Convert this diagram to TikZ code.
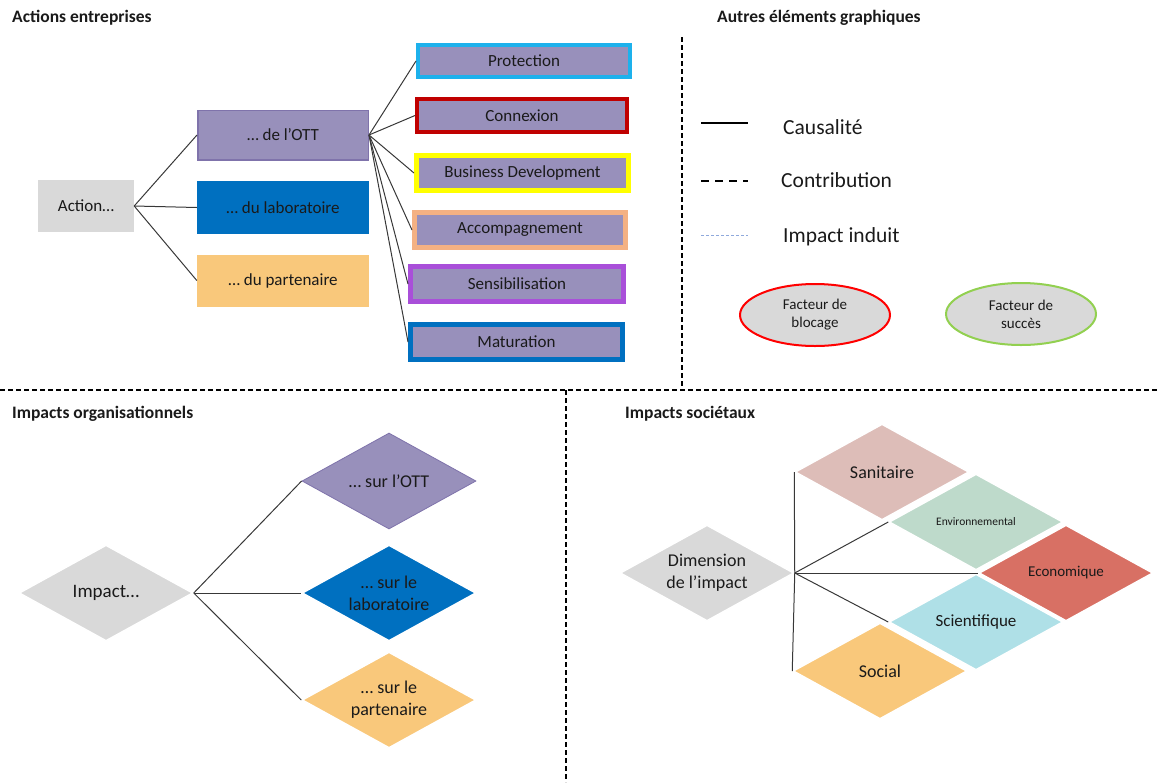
\documentclass[tikz,border=0pt]{standalone}
\usepackage{fontspec}
\setmainfont{Carlito}
\usetikzlibrary{shapes.geometric}

\definecolor{greyfill}{HTML}{D9D9D9}
\definecolor{ottfill}{HTML}{9890BB}
\definecolor{ottline}{HTML}{7F73AB}
\definecolor{labfill}{HTML}{0070C0}
\definecolor{partfill}{HTML}{F9C87B}
\definecolor{protline}{HTML}{1DB1EC}
\definecolor{connline}{HTML}{C00000}
\definecolor{bizline}{HTML}{FFFF00}
\definecolor{accline}{HTML}{F4B183}
\definecolor{sensline}{HTML}{A94FD9}
\definecolor{matline}{HTML}{0070C0}
\definecolor{sanfill}{HTML}{DDBDB8}
\definecolor{envfill}{HTML}{BEDACB}
\definecolor{ecofill}{HTML}{D87064}
\definecolor{scifill}{HTML}{AFE0E7}
\definecolor{induit}{HTML}{8FA9DC}
\definecolor{blockline}{HTML}{FF0000}
\definecolor{successline}{HTML}{92D050}
\definecolor{ink}{HTML}{1A1A1A}

\newcommand{\setfs}[2]{\fontsize{#1}{#2}\selectfont}

\begin{document}
\begin{tikzpicture}[x=1pt,y=-1pt,
  every node/.style={text=ink},
  heading/.style={anchor=base west, inner sep=0pt, font=\bfseries\setfs{17.5}{20}},
  legendtext/.style={anchor=base west, inner sep=0pt, font=\setfs{21.5}{24}},
  plainbox/.style={rectangle, inner sep=0pt, font=\setfs{17}{20}},
  actbox/.style={rectangle, inner sep=0pt, fill=ottfill, font=\setfs{17}{20}},
  dia/.style={diamond, aspect=1.83, minimum width=174pt, minimum height=96pt,
    inner sep=0pt, align=center, draw=white, line width=1.5pt},
  link/.style={draw=black!78, line width=1pt},
  sep/.style={draw=black, line width=1.8pt, dash pattern=on 5pt off 3pt},
  factor/.style={ellipse, minimum width=150pt, minimum height=62pt, fill=greyfill,
    line width=2pt, align=center, font=\setfs{15}{18}}
]
\useasboundingbox (0,0) rectangle (1158,782);

% section separators
\coordinate (vtop1) at (682,37);
\coordinate (vtop2) at (682,386);
\coordinate (hl) at (0,390);
\coordinate (hr) at (1158,390);
\coordinate (vbot1) at (566,390);
\coordinate (vbot2) at (566,782);
\draw[sep] (vtop1) -- (vtop2);
\draw[sep] (hl) -- (hr);
\draw[sep] (vbot1) -- (vbot2);

% headings
\node[heading] (h1) at (12,22) {Actions entreprises};
\node[heading] (h2) at (717,22) {Autres éléments graphiques};
\node[heading] (h3) at (12,418) {Impacts organisationnels};
\node[heading] (h4) at (625,418) {Impacts sociétaux};

% actions
\node[plainbox, fill=greyfill, minimum width=96pt, minimum height=52pt] (act) at (86,206) {Action…};
\node[plainbox, fill=ottfill, draw=ottline, line width=1.5pt, minimum width=170.5pt, minimum height=49.5pt] (ott) at (283,135) {… de l’OTT};
\node[plainbox, fill=labfill, minimum width=172pt, minimum height=53pt] (lab) at (283,207.5) {… du laboratoire};
\node[plainbox, fill=partfill, minimum width=172pt, minimum height=52pt] (part) at (283,280.5) {… du partenaire};

\draw[link] (act.east) -- (ott.west);
\draw[link] (act.east) -- (lab.west);
\draw[link] (act.east) -- (part.west);

% kinds of OTT action
\node[actbox, draw=protline, line width=4pt, minimum width=212pt, minimum height=32pt] (prot) at (524,61) {Protection};
\node[actbox, draw=connline, line width=4pt, minimum width=210pt, minimum height=33pt] (conn) at (522,115.5) {Connexion};
\node[actbox, draw=bizline, line width=5pt, minimum width=212pt, minimum height=35pt] (biz) at (522.5,173) {Business Development};
\node[actbox, draw=accline, line width=5pt, minimum width=211pt, minimum height=35pt] (acc) at (520,230) {Accompagnement};
\node[actbox, draw=sensline, line width=5pt, minimum width=213pt, minimum height=35pt] (sens) at (517,284) {Sensibilisation};
\node[actbox, draw=matline, line width=5pt, minimum width=212pt, minimum height=35pt] (mat) at (516.5,342) {Maturation};

\foreach \k in {prot,conn,biz,acc,sens,mat}
  \draw[link] (ott.east) -- (\k.west);

% legend
\coordinate (la1) at (701,123);
\coordinate (lb1) at (748,123);
\coordinate (la2) at (701,181);
\coordinate (lb2) at (748,181);
\coordinate (la3) at (701,235);
\coordinate (lb3) at (748,235);
\draw[black, line width=2pt] (la1) -- (lb1);
\draw[black, line width=2pt, dash pattern=on 8pt off 6pt] (la2) -- (lb2);
\draw[induit, line width=0.9pt, dash pattern=on 3pt off 2pt] (la3) -- (lb3);
\node[legendtext] (t1) at (783,134) {Causalité};
\node[legendtext] (t2) at (781,187) {Contribution};
\node[legendtext] (t3) at (783,242) {Impact induit};

\node[factor, draw=blockline] (block) at (815,315) {Facteur de\\blocage};
\node[factor, draw=successline] (success) at (1021,314) {Facteur de\\succès};

% organisational impacts
\node[dia, fill=greyfill, font=\setfs{19}{22}] (imp) at (106,593) {Impact…};
\node[dia, fill=ottfill, draw=ottline, line width=0.8pt, font=\setfs{18}{22}] (sott) at (389,481) {… sur l’OTT};
\node[dia, fill=labfill, font=\setfs{18}{22}] (slab) at (389,593) {… sur le\\laboratoire};
\node[dia, fill=partfill, font=\setfs{18}{22}] (spart) at (389,700) {… sur le\\partenaire};

\draw[link] (imp.east) -- (sott.west);
\draw[link] (imp.east) -- (slab.west);
\draw[link] (imp.east) -- (spart.west);

% societal impacts
\node[dia, fill=greyfill, font=\setfs{18}{22}] (dim) at (707,573) {Dimension\\de l’impact};
\node[dia, fill=sanfill, font=\setfs{18}{22}] (san) at (882,472) {Sanitaire};
\node[dia, fill=envfill, font=\setfs{11.5}{14}] (env) at (976,522) {Environnemental};
\node[dia, fill=ecofill, font=\setfs{15}{18}] (eco) at (1066,573) {Economique};
\node[dia, fill=scifill, font=\setfs{17}{20}] (sci) at (976,622) {Scientifique};
\node[dia, fill=partfill, font=\setfs{18}{22}] (soc) at (880,671) {Social};

\foreach \k in {san,env,eco,sci,soc}
  \draw[link] (dim.east) -- (\k.west);

\end{tikzpicture}
\end{document}
